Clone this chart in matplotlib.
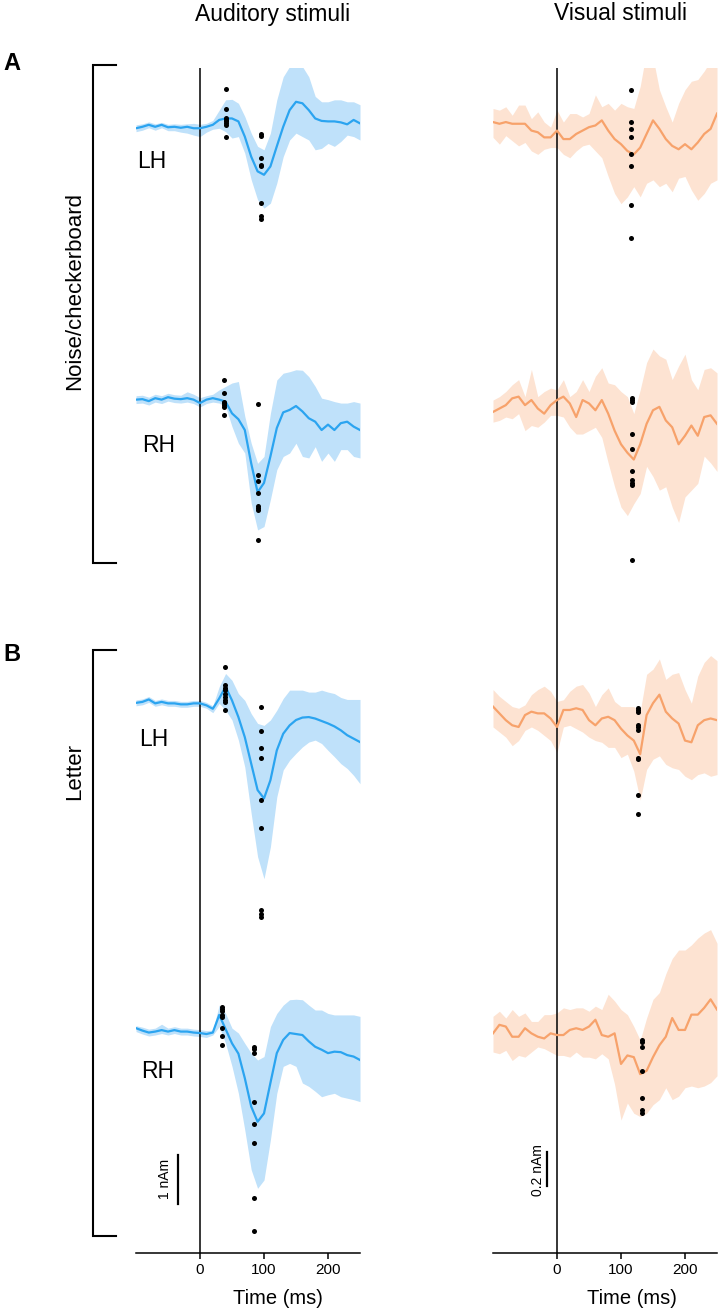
import numpy as np
import matplotlib.pyplot as plt
from matplotlib.lines import Line2D

plt.rcParams['font.family'] = ['Liberation Sans', 'DejaVu Sans']

W, H = 724, 1314

# time axis (ms), one sample every 10 ms
t = np.arange(-100, 251, 10)

# ---- auditory stimuli (nAm) ----
aud_a_lh_mean = [0, 0.03, 0.07, 0.03, 0.07, 0.02, 0.03, 0.01, 0.03, 0, 0, 0.03, 0.07, 0.17, 0.2, 0.2, 0.14, -0.17,
                 -0.58, -0.88, -0.95, -0.78, -0.37, 0.03, 0.37, 0.54, 0.51, 0.37, 0.2, 0.15, 0.14, 0.14, 0.12, 0.08, 0.17, 0.1]
aud_a_lh_hi = [0.07, 0.09, 0.13, 0.09, 0.12, 0.08, 0.09, 0.08, 0.09, 0.1, 0.08, 0.1, 0.16, 0.37, 0.58, 0.59, 0.51, 0.24,
               -0.10, -0.37, -0.44, -0.10, 0.58, 1.05, 1.26, 1.29, 1.26, 1.05, 0.65, 0.54, 0.54, 0.58, 0.58, 0.54, 0.54, 0.48]
aud_a_lh_lo = [-0.07, -0.04, 0.01, -0.04, 0.01, -0.05, -0.05, -0.08, -0.1, -0.14, -0.17, -0.08, -0.02, 0, -0.07, -0.2,
               -0.17, -0.51, -1.05, -1.46, -1.63, -1.53, -1.12, -0.58, -0.24, -0.1, -0.17, -0.24, -0.44, -0.41, -0.31,
               -0.37, -0.27, -0.14, -0.17, -0.24]

aud_a_rh_mean = [-0.01, 0, -0.04, 0.02, -0.01, 0.04, 0.01, 0, 0.02, -0.01, -0.08, -0.01, 0.02, -0.01, -0.05, -0.29,
                 -0.41, -0.63, -1.31, -1.90, -1.71, -1.17, -0.59, -0.27, -0.22, -0.14, -0.25, -0.39, -0.46, -0.63, -0.52,
                 -0.63, -0.49, -0.46, -0.56, -0.63]
aud_a_rh_hi = [0.07, 0.08, 0.04, 0.1, 0.07, 0.12, 0.09, 0.08, 0.15, 0.1, 0.03, 0.07, 0.1, 0.19, 0.26, 0.33, 0.36, -0.35,
               -0.90, -1.31, -1.17, -0.29, 0.39, 0.53, 0.56, 0.60, 0.59, 0.46, 0.26, 0.02, -0.01, -0.05, -0.08, -0.08,
               -0.05, -0.08]
aud_a_rh_lo = [-0.09, -0.08, -0.12, -0.06, -0.09, -0.04, -0.07, -0.08, -0.06, -0.09, -0.16, -0.09, -0.06, -0.08, -0.15,
               -0.56, -0.90, -1.10, -2.12, -2.67, -2.60, -2.05, -1.44, -1.17, -1.10, -0.90, -1.17, -1.20, -0.97, -1.27,
               -1.10, -1.27, -1.03, -1.03, -1.17, -1.20]

aud_b_lh_mean = [0, 0.02, 0.07, -0.01, 0.02, -0.01, -0.01, -0.03, -0.03, -0.01, -0.01, -0.05, -0.12, 0.09, 0.33, 0.05,
                 -0.29, -0.70, -1.24, -1.78, -1.95, -1.58, -0.97, -0.63, -0.46, -0.35, -0.30, -0.29, -0.32, -0.37, -0.42,
                 -0.48, -0.56, -0.66, -0.73, -0.80]
aud_b_lh_hi = [0.06, 0.08, 0.13, 0.05, 0.08, 0.05, 0.05, 0.03, 0.03, 0.05, 0.05, 0.01, -0.06, 0.33, 0.60, 0.46, 0.19, 0.05,
               -0.22, -0.42, -0.46, -0.35, -0.15, 0.09, 0.26, 0.26, 0.26, 0.22, 0.22, 0.26, 0.22, 0.19, 0.11, 0.07, 0.07, 0.07]
aud_b_lh_lo = [-0.06, -0.04, 0.01, -0.07, -0.04, -0.07, -0.07, -0.09, -0.09, -0.07, -0.07, -0.11, -0.2, -0.01, -0.15,
               -0.35, -0.76, -1.31, -2.26, -3.14, -3.59, -2.94, -1.92, -1.37, -1.17, -1.03, -0.90, -0.80, -0.76, -0.83,
               -0.97, -1.10, -1.24, -1.34, -1.48, -1.65]

aud_b_rh_mean = [0.07, 0.02, -0.02, 0, 0.03, 0, 0.03, 0, 0, -0.02, -0.03, -0.05, -0.02, 0.34, 0.05, -0.24, -0.45, -0.95,
                 -1.53, -1.84, -1.67, -1.05, -0.44, -0.17, -0.03, -0.05, -0.07, -0.20, -0.31, -0.37, -0.44, -0.41, -0.42,
                 -0.48, -0.51, -0.58]
aud_b_rh_hi = [0.12, 0.09, 0.05, 0.07, 0.15, 0.07, 0.1, 0.07, 0.07, 0.05, 0.04, 0.02, 0.03, 0.54, 0.37, 0.07, -0.03,
               -0.24, -0.44, -0.58, -0.51, 0.10, 0.37, 0.54, 0.65, 0.66, 0.65, 0.54, 0.44, 0.44, 0.37, 0.34, 0.34, 0.34,
               0.34, 0.31]
aud_b_rh_lo = [0, -0.05, -0.09, -0.07, -0.04, -0.07, -0.04, -0.07, -0.07, -0.09, -0.1, -0.12, -0.07, 0.10, -0.24, -0.71,
               -1.26, -2.01, -2.82, -3.20, -3.03, -2.21, -1.26, -0.71, -0.65, -0.71, -1.05, -1.12, -1.22, -1.33, -1.29,
               -1.26, -1.33, -1.36, -1.39, -1.43]

# individual peak latencies (ms) and amplitudes (nAm)
aud_a_lh_dots = [(40, [0.80, 0.39, 0.20, 0.17, 0.14, 0.10, 0.07, -0.18]),
                 (95, [-0.12, -0.16, -0.60, -0.75, -0.78, -1.53, -1.80, -1.86])]
aud_a_rh_dots = [(37, [0.39, 0.12, -0.05, -0.08, -0.12, -0.15, -0.32]),
                 (90, [-0.10, -1.54, -1.68, -1.92, -2.19, -2.22, -2.26, -2.88])]
aud_b_lh_dots = [(39, [0.73, 0.36, 0.31, 0.26, 0.19, 0.12, 0.05, 0.02, -0.15]),
                 (95, [-0.08, -0.57, -0.92, -1.12, -1.99, -2.56, -4.23, -4.30, -4.37])]
aud_b_rh_dots = [(34, [0.51, 0.46, 0.41, 0.34, 0.29, 0.07, -0.09, -0.27]),
                 (84, [-0.31, -0.36, -0.43, -1.43, -1.88, -2.28, -3.39, -4.08])]

# ---- visual stimuli (nAm) ----
vis_a_lh_mean = [0.04, 0.03, 0.04, 0.03, 0.03, 0.03, -0.01, -0.02, -0.05, -0.05, -0.01, -0.06, -0.06, -0.03, -0.01, 0.01,
                 0.02, 0.05, -0.01, -0.06, -0.09, -0.13, -0.15, -0.11, -0.03, 0.05, 0, -0.06, -0.10, -0.12, -0.09, -0.12,
                 -0.08, -0.03, 0, 0.09]
vis_a_lh_hi = [0.12, 0.11, 0.13, 0.08, 0.14, 0.14, 0.06, 0.10, 0.04, 0.01, 0.11, 0.04, 0.09, 0.09, 0.07, 0.09, 0.20, 0.13,
               0.15, 0.11, 0.15, 0.13, 0.12, 0.25, 0.46, 0.42, 0.23, 0.13, 0.04, 0.15, 0.23, 0.28, 0.29, 0.34, 0.40, 0.46]
vis_a_lh_lo = [-0.05, -0.09, -0.04, -0.07, -0.10, -0.08, -0.13, -0.15, -0.12, -0.11, -0.11, -0.15, -0.17, -0.13, -0.10,
               -0.09, -0.13, -0.17, -0.28, -0.38, -0.44, -0.40, -0.34, -0.40, -0.32, -0.30, -0.34, -0.32, -0.37, -0.29,
               -0.28, -0.36, -0.42, -0.38, -0.32, -0.30]

vis_a_rh_mean = [-0.06, -0.04, -0.02, 0.02, 0.03, -0.02, 0.01, -0.04, -0.07, -0.02, 0.01, 0.03, -0.01, -0.09, 0.01, -0.01,
                 -0.05, 0.01, -0.07, -0.17, -0.25, -0.30, -0.34, -0.25, -0.13, -0.05, -0.03, -0.11, -0.15, -0.25, -0.20,
                 -0.14, -0.20, -0.09, -0.08, -0.13]
vis_a_rh_hi = [0.01, 0.03, 0.06, 0.10, 0.13, 0.03, 0.19, 0.03, 0.06, 0.08, 0.07, 0.13, 0.03, 0.06, 0.13, 0.06, 0.15, 0.20,
               0.11, 0.10, 0.06, 0.03, -0.07, 0.07, 0.23, 0.31, 0.27, 0.25, 0.13, 0.21, 0.28, 0.13, 0.07, 0.19, 0.20, 0.17]
vis_a_rh_lo = [-0.12, -0.11, -0.09, -0.10, -0.07, -0.17, -0.14, -0.15, -0.12, -0.08, -0.08, -0.09, -0.15, -0.19, -0.19,
               -0.17, -0.15, -0.21, -0.36, -0.50, -0.62, -0.67, -0.60, -0.54, -0.38, -0.44, -0.52, -0.50, -0.62, -0.71,
               -0.56, -0.52, -0.48, -0.32, -0.36, -0.41]

vis_b_lh_mean = [0.03, -0.01, -0.05, -0.08, -0.09, -0.02, 0, -0.01, -0.01, -0.04, -0.09, 0.01, 0.01, 0.02, 0.01, -0.05,
                 -0.08, -0.04, -0.03, -0.05, -0.10, -0.14, -0.17, -0.25, -0.02, 0.05, 0.10, 0, -0.04, -0.07, -0.17, -0.18,
                 -0.08, -0.05, -0.04, -0.05]
vis_b_lh_hi = [0.13, 0.09, 0.06, 0.03, 0.02, 0.04, 0.10, 0.13, 0.15, 0.12, 0.06, 0.07, 0.12, 0.15, 0.16, 0.11, 0.03, 0.10,
               0.14, 0.06, 0.03, 0.03, 0.03, 0, 0.22, 0.25, 0.31, 0.19, 0.22, 0.23, 0.13, 0.05, 0.21, 0.29, 0.33, 0.30]
vis_b_lh_lo = [-0.09, -0.12, -0.15, -0.20, -0.17, -0.11, -0.09, -0.11, -0.14, -0.17, -0.24, -0.09, -0.08, -0.10, -0.12,
               -0.15, -0.17, -0.18, -0.21, -0.21, -0.27, -0.25, -0.35, -0.52, -0.34, -0.28, -0.26, -0.31, -0.33, -0.34,
               -0.38, -0.40, -0.37, -0.36, -0.38, -0.37]

vis_b_rh_mean = [0, 0.05, 0.04, -0.02, -0.02, 0.03, 0, -0.02, -0.03, 0, -0.01, -0.01, 0.02, 0.03, 0.02, 0.04, 0.08, -0.01,
                 -0.02, 0, -0.18, -0.13, -0.14, -0.24, -0.22, -0.14, -0.07, -0.02, 0.09, 0.02, 0.02, 0.11, 0.11, 0.15,
                 0.20, 0.14]
vis_b_rh_hi = [0.10, 0.13, 0.09, 0.14, 0.10, 0.12, 0.07, 0.07, 0.11, 0.11, 0.12, 0.15, 0.14, 0.15, 0.15, 0.13, 0.16, 0.14,
               0.23, 0.19, 0.14, 0.11, 0.04, -0.04, 0.09, 0.20, 0.24, 0.35, 0.44, 0.49, 0.49, 0.52, 0.56, 0.59, 0.61, 0.53]
vis_b_rh_lo = [-0.11, -0.12, -0.10, -0.16, -0.13, -0.14, -0.11, -0.08, -0.09, -0.11, -0.13, -0.13, -0.14, -0.11, -0.14,
               -0.14, -0.15, -0.12, -0.15, -0.30, -0.51, -0.41, -0.47, -0.49, -0.47, -0.42, -0.39, -0.32, -0.39, -0.37,
               -0.32, -0.31, -0.32, -0.31, -0.29, -0.25]

vis_a_lh_dots = [(115, [0.23, 0.04, 0, -0.05, -0.15, -0.22, -0.45, -0.64])]
vis_a_rh_dots = [(117, [0.02, 0.01, 0, -0.19, -0.28, -0.41, -0.46, -0.48, -0.49, -0.93])]
vis_b_lh_dots = [(127, [0.02, 0.01, 0, -0.08, -0.09, -0.11, -0.27, -0.28, -0.49, -0.60])]
vis_b_rh_dots = [(133, [-0.04, -0.05, -0.08, -0.22, -0.38, -0.45, -0.47])]

hemis = ['LH', 'RH', 'LH', 'RH']
xticks = [0, 100, 200]
scale_aud = 1.0   # nAm
scale_vis = 0.2   # nAm

aud = [(aud_a_lh_mean, aud_a_lh_lo, aud_a_lh_hi, aud_a_lh_dots),
       (aud_a_rh_mean, aud_a_rh_lo, aud_a_rh_hi, aud_a_rh_dots),
       (aud_b_lh_mean, aud_b_lh_lo, aud_b_lh_hi, aud_b_lh_dots),
       (aud_b_rh_mean, aud_b_rh_lo, aud_b_rh_hi, aud_b_rh_dots)]
vis = [(vis_a_lh_mean, vis_a_lh_lo, vis_a_lh_hi, vis_a_lh_dots),
       (vis_a_rh_mean, vis_a_rh_lo, vis_a_rh_hi, vis_a_rh_dots),
       (vis_b_lh_mean, vis_b_lh_lo, vis_b_lh_hi, vis_b_lh_dots),
       (vis_b_rh_mean, vis_b_rh_lo, vis_b_rh_hi, vis_b_rh_dots)]

# layout: vertical offset of each trace (in nAm of its column)
offs_aud = [18.44, 12.91, 6.71, 0]
offs_vis = [5.32, 3.715, 1.892, 0]


def fx(x):
    return x / W


def fy(y):
    return 1 - y / H


fig = plt.figure(figsize=(W / 100, H / 100), dpi=100)
ax1 = fig.add_axes([fx(136), fy(1253), 224 / W, 1185 / H])
ax2 = fig.add_axes([fx(493), fy(1253), 224 / W, 1185 / H])


def draw(ax, traces, offs, line_c, fill_c, ylim):
    for (m, lo, hi, dots), off in zip(traces, offs):
        m, lo, hi = np.array(m), np.array(lo), np.array(hi)
        ax.fill_between(t, lo + off, hi + off, color=fill_c, lw=0, zorder=1)
        ax.plot(t, m + off, color=line_c, lw=1.6, zorder=3, solid_joinstyle='round')
        for lat, vals in dots:
            ax.scatter([lat] * len(vals), np.array(vals) + off, s=13, color='k', lw=0, zorder=4)
    ax.axvline(0, color='k', lw=1.1, zorder=2)
    ax.set_xlim(-100, 250)
    ax.set_ylim(*ylim)
    for s in ['top', 'right', 'left']:
        ax.spines[s].set_visible(False)
    ax.spines['bottom'].set_linewidth(1.1)
    ax.set_yticks([])
    ax.set_xticks(xticks)
    ax.tick_params(axis='x', direction='out', length=4, width=1.1, labelsize=11, pad=3)


draw(ax1, aud, offs_aud, '#2ba4f0', '#bfe1fa', (-4.52, 19.67))
draw(ax2, vis, offs_vis, '#f7a26b', '#fde3d2', (-1.292, 5.678))

# scale bars
ax1.plot([-35, -35], [-2.52, -2.52 - scale_aud], color='k', lw=1.6)
ax2.plot([-16, -16], [-0.70, -0.70 - scale_vis], color='k', lw=1.6)
fig.text(fx(165), fy(1179), '1 nAm', rotation=90, ha='center', va='center', fontsize=10)
fig.text(fx(537.5), fy(1170), '0.2 nAm', rotation=90, ha='center', va='center', fontsize=10)

# texts
fig.text(fx(273), fy(14), 'Auditory stimuli', ha='center', va='center', fontsize=16.5)
fig.text(fx(621), fy(14), 'Visual stimuli', ha='center', va='center', fontsize=16.5)
fig.text(fx(278), fy(1298), 'Time (ms)', ha='center', va='center', fontsize=14.5)
fig.text(fx(632), fy(1298), 'Time (ms)', ha='center', va='center', fontsize=14.5)
fig.text(fx(3), fy(63), 'A', ha='left', va='center', fontsize=17, fontweight='bold')
fig.text(fx(3), fy(655), 'B', ha='left', va='center', fontsize=17, fontweight='bold')

for lab, (x, y) in zip(hemis, [(137, 162), (142, 445), (139, 740), (141, 1072)]):
    fig.text(fx(x), fy(y), lab, ha='left', va='center', fontsize=16.5)

# condition brackets
for y0, y1, lab, ly in [(65, 563, 'Noise/checkerboard', 291), (650, 1236, 'Letter', 772)]:
    fig.add_artist(Line2D([fx(116), fx(93), fx(93), fx(116)], [fy(y0), fy(y0), fy(y1), fy(y1)],
                          color='k', lw=1.5, solid_joinstyle='miter'))
    fig.text(fx(75), fy(ly), lab, rotation=90, ha='center', va='center', fontsize=16)

fig.savefig('out.png', dpi=100)
